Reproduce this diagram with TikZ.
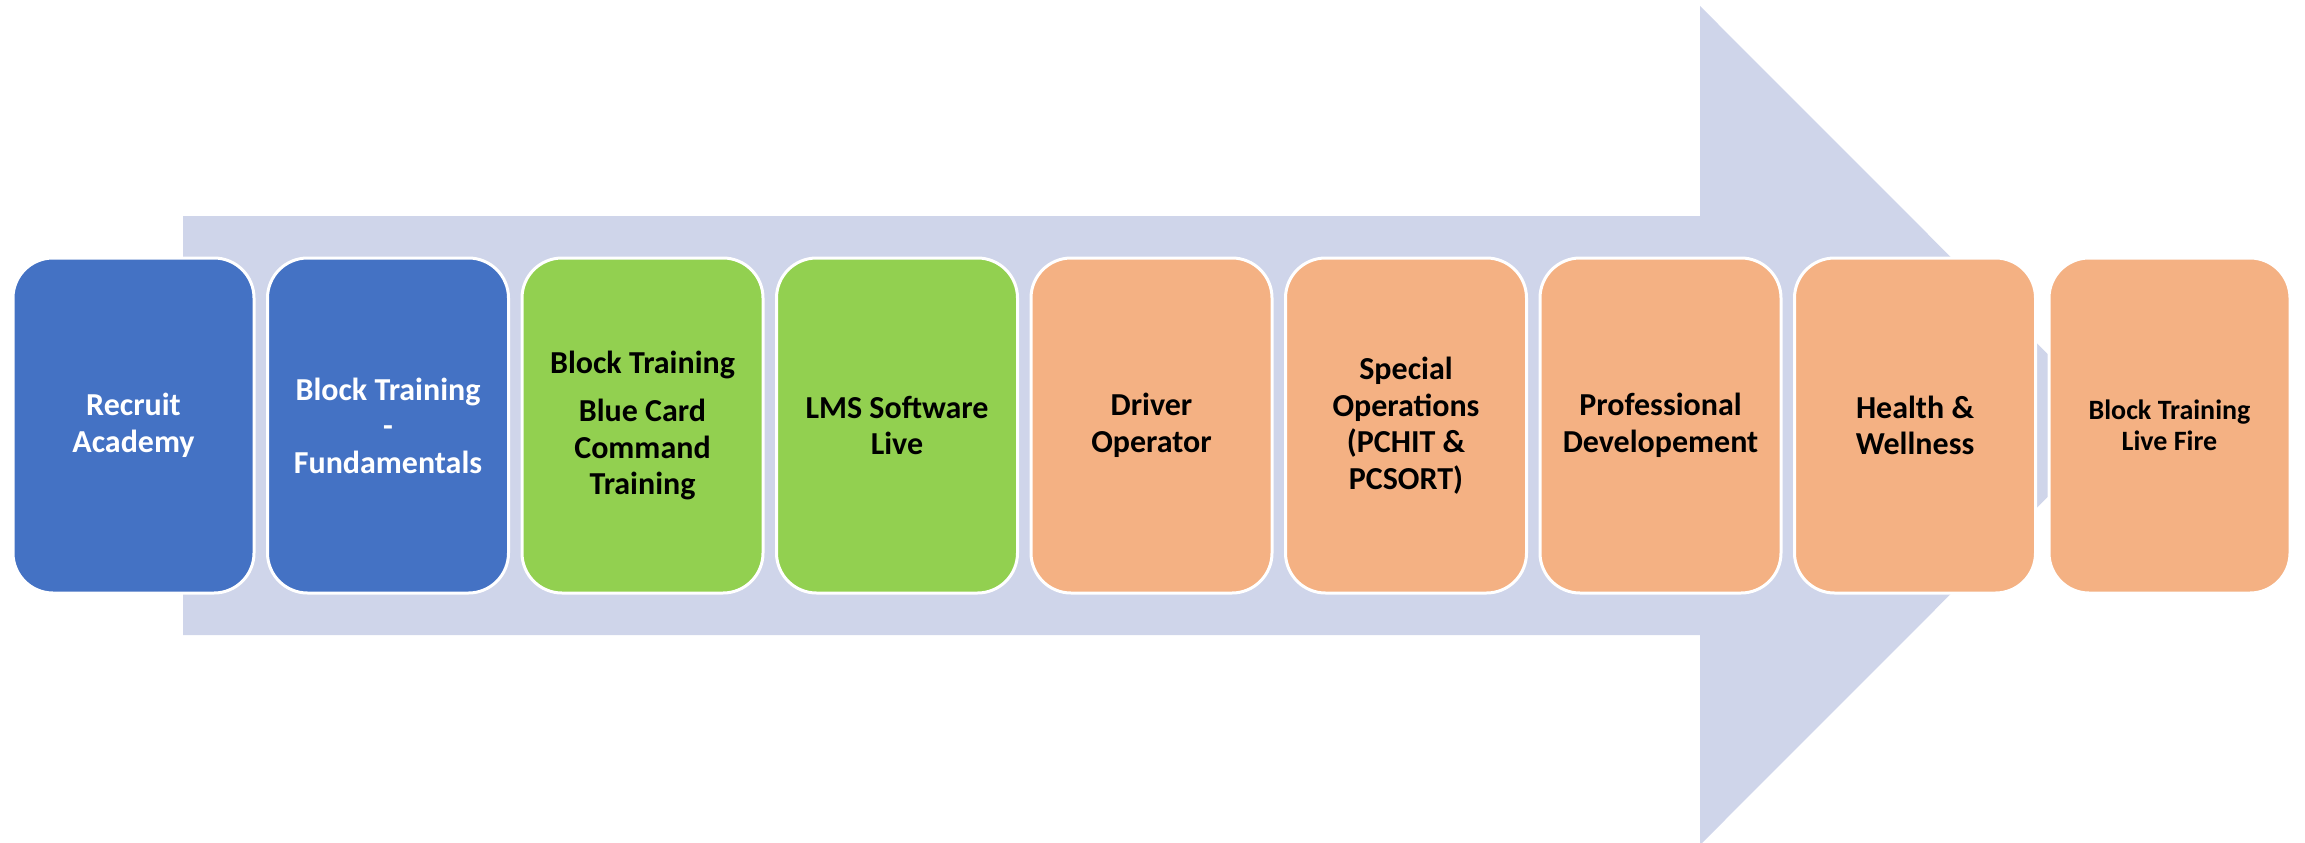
\documentclass[tikz,border=0pt]{standalone}
\usepackage{fontspec}
\setmainfont{Carlito}
\definecolor{arrowc}{HTML}{CFD5EA}
\definecolor{blueb}{HTML}{4472C4}
\definecolor{greenb}{HTML}{92D050}
\definecolor{orangeb}{HTML}{F4B183}
\tikzset{
  card/.style={rectangle, rounded corners=40pt, draw=white, line width=3pt,
    minimum width=241pt, minimum height=335pt, align=center, inner sep=4pt,
    font=\bfseries\fontsize{32}{36.5}\selectfont},
  bluecard/.style={card, fill=blueb, text=white},
  greencard/.style={card, fill=greenb, text=black},
  orangecard/.style={card, fill=orangeb, text=black},
}
\begin{document}
\begin{tikzpicture}[x=1pt,y=-1pt]
\useasboundingbox (0,0) rectangle (2305,843);
\fill[arrowc] (183,216) -- (1700,216) -- (1700,6) -- (2119,425.5) -- (1700,845) -- (1700,635) -- (183,635) -- cycle;
\node[bluecard] (n1) at (133.5,425.5) {Recruit\\Academy};
\node[bluecard] (n2) at (388,425.5) {Block Training\\-\\Fundamentals};
\node[greencard] (n3) at (642.5,425.5) {Block Training\\[12pt]Blue Card\\Command\\Training};
\node[greencard] (n4) at (897,425.5) {LMS Software\\Live};
\node[orangecard] (n5) at (1151.5,425.5) {Driver\\Operator};
\node[orangecard] (n6) at (1406,425.5) {Special\\Operations\\(PCHIT \&\\PCSORT)};
\node[orangecard] (n7) at (1660.5,425.5) {Professional\\Developement};
\node[orangecard] (n8) at (1915,425.5) {Health \&\\Wellness};
\node[orangecard, font=\bfseries\fontsize{28}{31}\selectfont] (n9) at (2169.5,425.5) {Block Training\\Live Fire};
\end{tikzpicture}
\end{document}
